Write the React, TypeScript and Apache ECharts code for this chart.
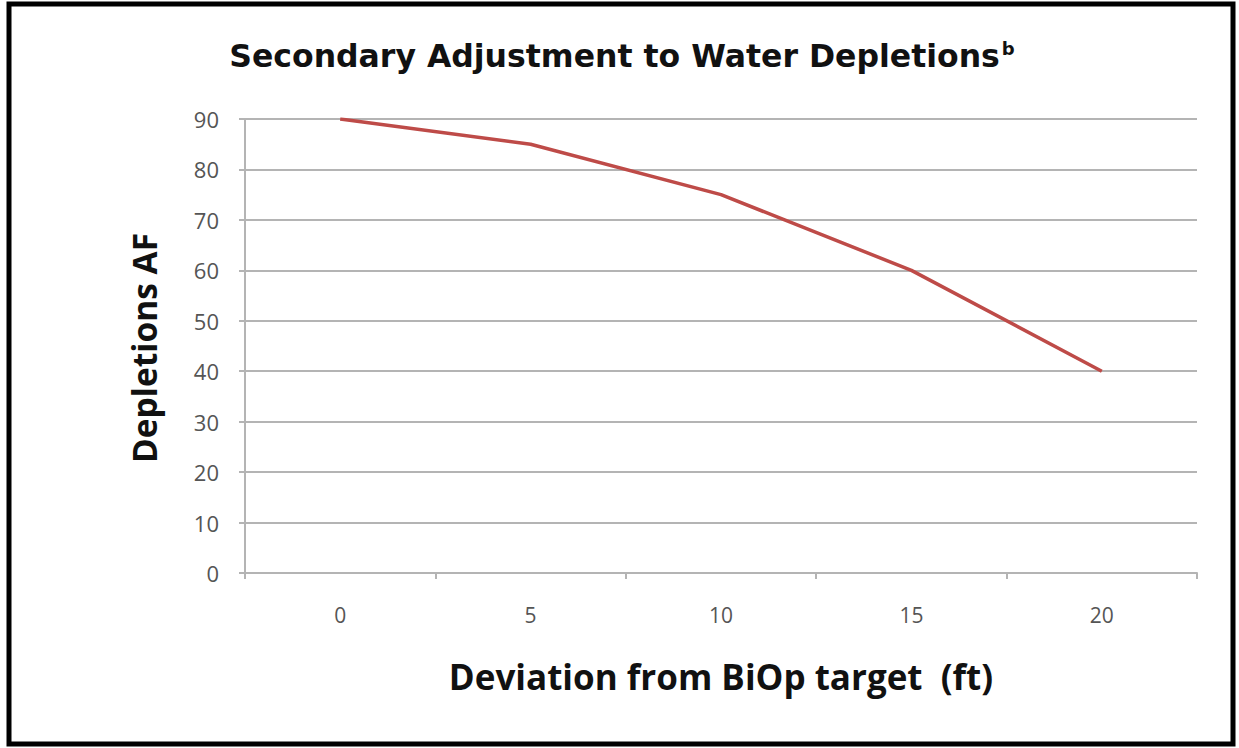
import React, { useEffect, useRef } from "react";
import * as echarts from "echarts";

const categories = ["0", "5", "10", "15", "20"];
const depletions = [90, 85, 75, 60, 40];
const yTicks = [0, 90, 10];

export default function App() {
  const ref = useRef<HTMLDivElement>(null);
  useEffect(() => {
    document.body.style.margin = "0";
    const chart = echarts.init(ref.current!, null, { renderer: "svg" });
    chart.setOption({
      animation: false,
      backgroundColor: "#ffffff",
      title: {
        text: "{t|Secondary Adjustment to Water Depletions}{s|b}",
        left: 617,
        textAlign: "center",
        top: 34,
        textStyle: {
          rich: {
            t: { fontFamily: "DejaVu Sans", fontWeight: "bold", fontSize: 31.5, color: "#111" },
            s: { fontFamily: "DejaVu Sans", fontWeight: "bold", fontSize: 18, color: "#111", verticalAlign: "top", padding: [0, 0, 16, 2] },
          },
        },
      },
      graphic: [
        {
          type: "rect",
          shape: { x: 9, y: 4, width: 1224, height: 740 },
          style: { fill: "none", stroke: "#000", lineWidth: 5 },
          silent: true,
        },
        {
          type: "text",
          x: 144,
          y: 348,
          rotation: Math.PI / 2,
          style: {
            text: "Depletions AF",
            fontFamily: "Open Sans",
            fontWeight: "bold",
            fontSize: 33.5,
            fill: "#111",
            align: "center",
            verticalAlign: "middle",
          },
          silent: true,
        },
      ],
      grid: { left: 245, right: 42, top: 119, bottom: 175, containLabel: false },
      xAxis: {
        type: "category",
        data: categories,
        boundaryGap: true,
        name: "Deviation from BiOp target  (ft)",
        nameLocation: "middle",
        nameGap: 86,
        nameTextStyle: { fontFamily: "Open Sans", fontWeight: "bold", fontSize: 35, color: "#111" },
        axisLine: { lineStyle: { color: "#b4b4b4", width: 2 } },
        axisTick: { show: true, alignWithLabel: false, length: 6, lineStyle: { color: "#b4b4b4", width: 2 } },
        axisLabel: { fontFamily: "Open Sans", fontSize: 21, color: "#555", margin: 31 },
      },
      yAxis: {
        type: "value",
        min: yTicks[0],
        max: yTicks[1],
        interval: yTicks[2],
        axisLine: { show: true, lineStyle: { color: "#b4b4b4", width: 2 } },
        axisTick: { show: true, length: 6, lineStyle: { color: "#b4b4b4", width: 2 } },
        axisLabel: { fontFamily: "Open Sans", fontSize: 22, color: "#555", margin: 26 },
        splitLine: { lineStyle: { color: "#b4b4b4", width: 2 } },
      },
      series: [
        {
          type: "line",
          data: depletions,
          showSymbol: false,
          symbol: "none",
          lineStyle: { color: "#be4b48", width: 3.5 },
        },
      ],
    });
    return () => chart.dispose();
  }, []);
  return <div ref={ref} style={{ width: 1239, height: 748 }} />;
}
